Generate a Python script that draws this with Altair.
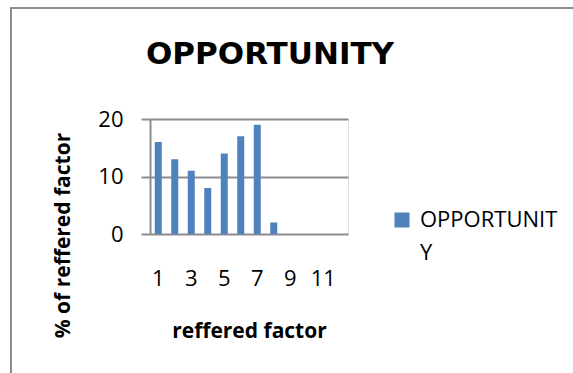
import altair as alt
import pandas as pd

categories = [1, 2, 3, 4, 5, 6, 7, 8, 9, 10, 11, 12]
values = [16, 13, 11, 8, 14, 17, 19, 2, None, None, None, None]
series_name = "OPPORTUNITY"
x_tick_labels = [1, 3, 5, 7, 9, 11]
y_ticks = [0, 10, 20]

df = pd.DataFrame({"factor": categories, "pct": values, "series": [series_name] * len(categories)})

GRAY = "#8c8c8c"
BLUE = "#4f81bd"
LABEL_DY = 7

frame = alt.Chart(pd.DataFrame({"k": [0]})).mark_rect(
    fill="transparent", stroke=GRAY, strokeWidth=2
).encode(
    x=alt.value(-139), x2=alt.value(433), y=alt.value(-111), y2=alt.value(264)
)

bars = alt.Chart(df).mark_bar(size=7).encode(
    x=alt.X(
        "factor:O",
        scale=alt.Scale(domain=categories, paddingInner=0, paddingOuter=0),
        axis=alt.Axis(
            title="reffered factor",
            values=x_tick_labels,
            labelAngle=0,
            domain=False,
            ticks=False,
            labelFont="Open Sans",
            labelFontSize=22,
            labelColor="black",
            labelBaseline="top",
            labelPadding=34 - LABEL_DY,
            titleFont="Open Sans",
            titleFontSize=21,
            titleFontWeight="bold",
            titleColor="black",
            titlePadding=31,
        ),
    ),
    y=alt.Y(
        "pct:Q",
        scale=alt.Scale(domain=[0, 20], nice=False),
        axis=alt.Axis(
            title="% of reffered factor",
            values=y_ticks,
            domainColor=GRAY,
            domainWidth=2,
            tickColor=GRAY,
            tickWidth=2,
            tickSize=9,
            gridColor=GRAY,
            gridWidth=2,
            labelFont="Open Sans",
            labelFontSize=22,
            labelColor="black",
            labelPadding=18,
            labelOffset=-LABEL_DY,
            titleFont="Open Sans",
            titleFontSize=21,
            titleFontWeight="bold",
            titleColor="black",
            titlePadding=24,
            titleY=116,
        ),
    ),
    color=alt.Color(
        "series:N",
        scale=alt.Scale(range=[BLUE]),
        legend=alt.Legend(
            title=None,
            orient="none",
            legendX=241,
            legendY=90,
            padding=0,
            symbolType="square",
            symbolSize=225,
            symbolStrokeWidth=0,
            labelFont="Open Sans",
            labelFontSize=22,
            labelColor="black",
            labelOffset=7,
            labelLimit=400,
            labelBaseline="alphabetic",
            labelExpr="[slice(datum.label, 0, 10), slice(datum.label, 10)]",
        ),
    ),
)

chart = alt.layer(frame, bars).properties(
    width=198,
    height=115,
    autosize=alt.AutoSizeParams(type="none"),
    padding={"left": 150, "top": 119, "right": 225, "bottom": 139},
    title=alt.TitleParams(
        "OPPORTUNITY",
        font="DejaVu Sans",
        fontSize=31,
        fontWeight="bold",
        color="black",
        anchor="middle",
        frame="group",
        baseline="alphabetic",
        offset=-88,
        dx=21,
    ),
).configure_view(stroke=None).configure(
    background="white",
    style={"guide-label": {"lineHeight": 33, "dy": LABEL_DY}},
)

chart.save("out.html", embed_options={"renderer": "svg", "actions": False})
